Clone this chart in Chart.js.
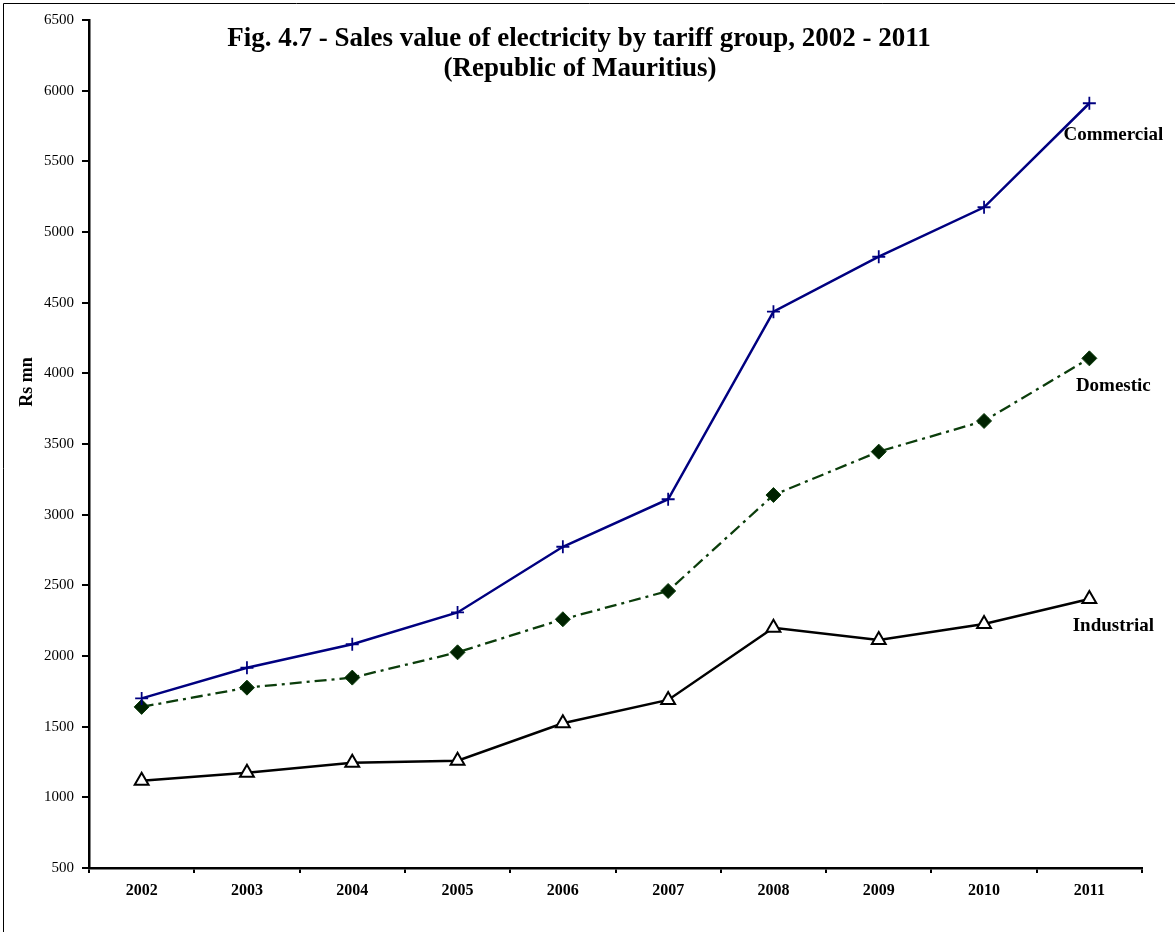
<!DOCTYPE html>
<html>
<head>
<meta charset="utf-8">
<script src="https://cdn.jsdelivr.net/npm/chart.js@4/dist/chart.umd.min.js"></script>
<style>
  html, body { margin: 0; padding: 0; background: #fff; }
  #wrap { width: 1175px; height: 932px; position: relative; }
</style>
</head>
<body>
<div id="wrap"><canvas id="chart"></canvas></div>
<script>
// ── Data (Rs mn) ─────────────────────────
const years      = ['2002', '2003', '2004', '2005', '2006', '2007', '2008', '2009', '2010', '2011'];
const commercial = [1700, 1917, 2083, 2308, 2773, 3109, 4436, 4825, 5175, 5911];
const domestic   = [1640, 1776, 1847, 2026, 2260, 2460, 3139, 3446, 3663, 4106];
const industrial = [1118, 1174, 1245, 1259, 1524, 1689, 2200, 2113, 2226, 2403];
const yTicks     = [500, 1000, 1500, 2000, 2500, 3000, 3500, 4000, 4500, 5000, 5500, 6000, 6500];

const titleLines = ['Fig. 4.7 - Sales value of electricity by tariff group, 2002 - 2011', '(Republic of Mauritius)'];
const seriesNames = ['Commercial', 'Domestic', 'Industrial'];

const SERIF = '"Liberation Serif", "Times New Roman", serif';

// ── Annotations: frame, title, axis title, series labels ─
const decorations = {
  id: 'decorations',
  afterDraw(chart) {
    const { ctx } = chart;
    const x = chart.scales.x, y = chart.scales.y;
    ctx.save();

    // outer frame (only top & left edges visible)
    ctx.strokeStyle = '#000';
    ctx.lineWidth = 1;
    ctx.beginPath();
    ctx.moveTo(3.5, 940); ctx.lineTo(3.5, 3.5); ctx.lineTo(1200, 3.5);
    ctx.stroke();

    // title
    ctx.fillStyle = '#000';
    ctx.textAlign = 'center';
    ctx.textBaseline = 'middle';
    ctx.font = 'bold 27px ' + SERIF;
    ctx.fillText(titleLines[0], 579, 39);
    ctx.fillText(titleLines[1], 580, 69);

    // y axis title
    ctx.save();
    ctx.translate(27, 382);
    ctx.rotate(-Math.PI / 2);
    ctx.font = 'bold 18px ' + SERIF;
    ctx.fillText('Rs mn', 0, 0);
    ctx.restore();

    // series labels near last point
    ctx.font = 'bold 19px ' + SERIF;
    const last = years.length - 1;
    const px = x.getPixelForValue(last);
    const offs = [32, 28, 27];
    [commercial, domestic, industrial].forEach((s, i) => {
      ctx.fillText(seriesNames[i], px + 24, y.getPixelForValue(s[last]) + offs[i]);
    });

    ctx.restore();
  }
};

new Chart(document.getElementById('chart'), {
  type: 'line',
  data: {
    labels: years,
    datasets: [
      {
        label: seriesNames[0],
        data: commercial,
        borderColor: '#000080',
        borderWidth: 2.5,
        pointStyle: 'cross',
        pointRadius: 6.5,
        pointBorderWidth: 1.8,
        pointBorderColor: '#000080',
        tension: 0,
      },
      {
        label: seriesNames[1],
        data: domestic,
        borderColor: '#0b3d0b',
        borderWidth: 2.3,
        borderDash: [12, 5, 3, 5],
        pointStyle: 'rectRot',
        pointRadius: 7.5,
        pointBackgroundColor: '#002200',
        pointBorderColor: '#0b3d0b',
        pointBorderWidth: 1,
        tension: 0,
      },
      {
        label: seriesNames[2],
        data: industrial,
        borderColor: '#000',
        borderWidth: 2.5,
        pointStyle: 'triangle',
        pointRadius: 8,
        pointBackgroundColor: '#fff',
        pointBorderColor: '#000',
        pointBorderWidth: 2,
        tension: 0,
      },
    ],
  },
  options: {
    responsive: true,
    maintainAspectRatio: false,
    animation: false,
    events: [],
    layout: { padding: { left: 0, top: 20, right: 33, bottom: 0 } },
    plugins: { legend: { display: false }, title: { display: false }, tooltip: { enabled: false } },
    scales: {
      x: {
        offset: true,
        grid: { offset: true, drawOnChartArea: false, drawTicks: true, tickLength: 5, color: '#000', lineWidth: 2 },
        border: { display: true, color: '#000', width: 2.5 },
        ticks: { color: '#000', padding: 8, font: { family: SERIF, size: 16, weight: 'bold' }, maxRotation: 0 },
        afterFit: s => { s.height = 64; },
      },
      y: {
        min: 500,
        max: 6500,
        afterBuildTicks: s => { s.ticks = yTicks.map(v => ({ value: v })); },
        grid: { drawOnChartArea: false, drawTicks: true, tickLength: 7, color: '#000', lineWidth: 2 },
        border: { display: true, color: '#000', width: 2.5 },
        ticks: { color: '#000', padding: 8, font: { family: SERIF, size: 15 }, callback: v => String(v) },
        afterFit: s => { s.width = 89; },
      },
    },
  },
  plugins: [decorations],
});
</script>
</body>
</html>
